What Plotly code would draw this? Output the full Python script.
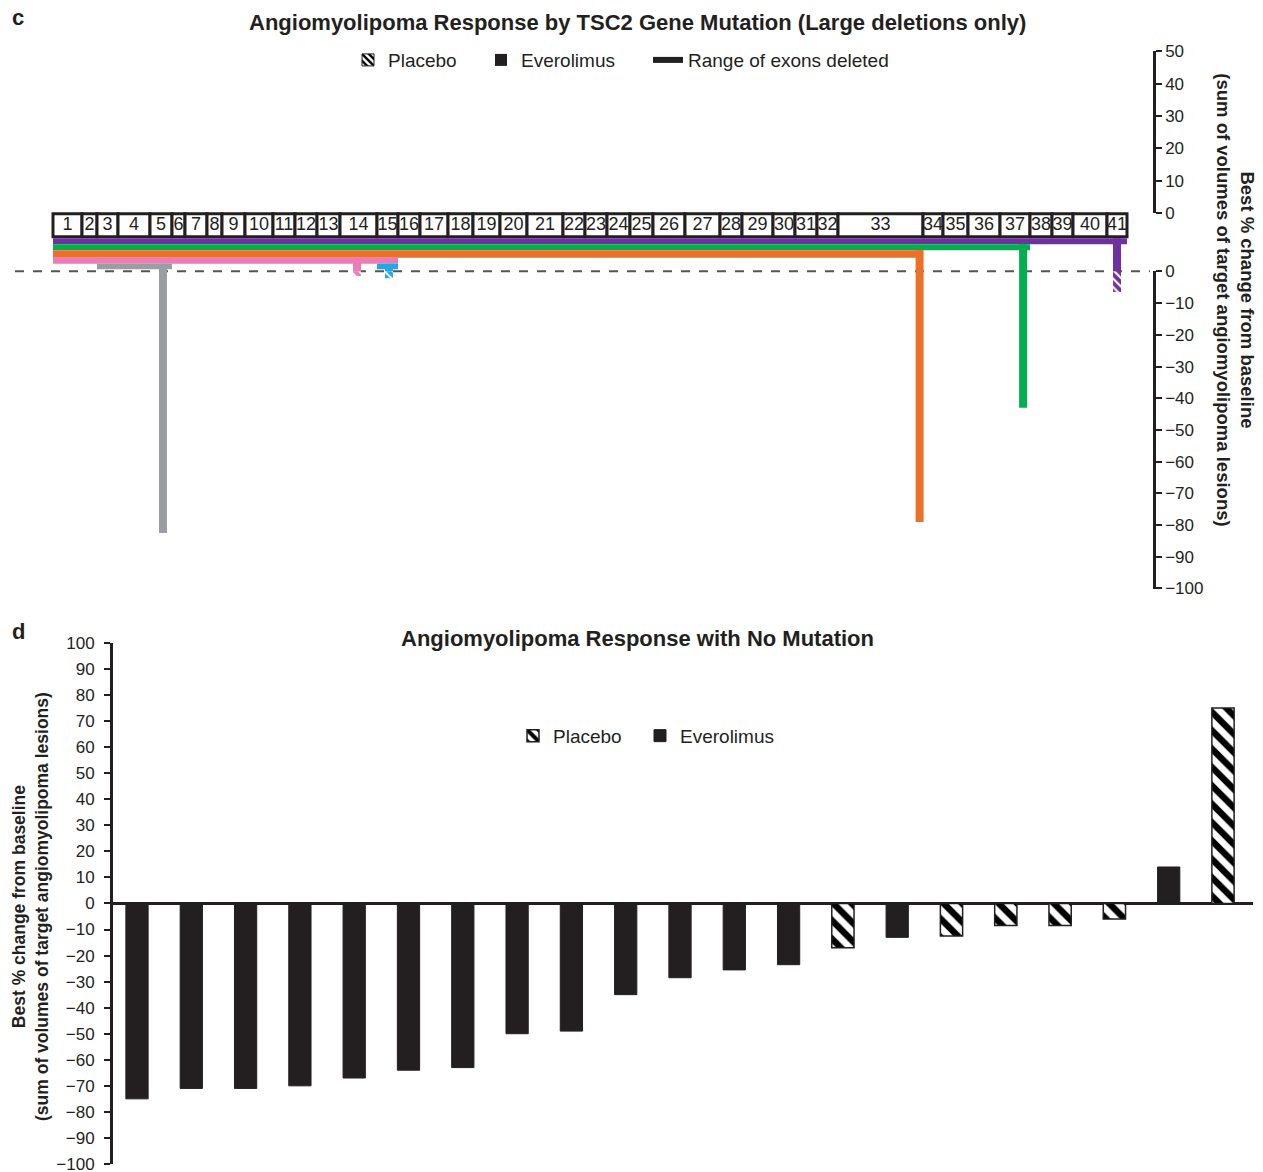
import plotly.graph_objects as go

W, H = 1263, 1192
FONT = "Arial, Liberation Sans, sans-serif"
BLACK = "#231F20"

# ---------------- Panel c data ----------------
exon_labels = [str(i) for i in range(1, 42)]
exon_widths = [29, 15, 21, 32, 22, 13, 22, 15, 23, 28, 22, 22, 23, 37, 21, 22, 28, 25, 27, 27,
               36, 22, 22, 23, 23, 32, 35, 22, 31, 22, 22, 21, 85, 20, 25, 32, 30, 22, 21, 34, 20]
c_del_start_exon = [1, 1, 1, 1, 15, 3]
c_del_end_exon = [41, 37, 33, 15, 15, 5]
c_treatment = ["Placebo", "Everolimus", "Everolimus", "Placebo", "Placebo", "Everolimus"]
c_response = [-6.5, -43, -79, -1.5, -2.2, -82.5]
c_bar_exon_pos = [41.5, 37.77, 33.96, 14.46, 15.57, 5.59]   # exon number + fraction within exon
c_ticks_upper = [0, 10, 20, 30, 40, 50]
c_ticks_lower = [0, -10, -20, -30, -40, -50, -60, -70, -80, -90, -100]

# ---------------- Panel d data ----------------
d_patient = list(range(1, 22))
d_treatment = ["Everolimus"] * 13 + ["Placebo", "Everolimus", "Placebo", "Placebo", "Placebo",
                                     "Placebo", "Everolimus", "Placebo"]
d_response = [-75, -71, -71, -70, -67, -64, -63, -50, -49, -35, -28.5, -25.5, -23.5,
              -17, -13, -12.5, -8.5, -8.5, -6, 14, 75]
d_ticks = list(range(-100, 101, 10))

# ---------------- styles ----------------
c_colors = ["#7030A0", "#00B050", "#EC7128", "#EE7AB6", "#22A7E6", "#9A9EA2"]
c_rows = [0, 1, 2, 3, 4, 4]
row_px = [(237, 243), (243, 249), (249, 256.5), (256.5, 262.5), (262.5, 268)]  # top, bottom px

# vertical placement helper (target picture rows -> page rows)
Y_OFF, Y_SCALE = 8.0, 0.983


def pg(p):
    return (p - Y_OFF) / Y_SCALE


def pxx(p):
    return p / W


def pyy(p):
    return 1 - pg(p) / H


C_TOP, C_ZERO, C_BOT = 30, 270, 587


def cu(p):
    # target picture row -> panel-c data units
    return (pg(C_ZERO) - pg(p)) / ((pg(C_BOT) - pg(C_ZERO)) / 100.0)


# exon geometry
edges = [0]
for w in exon_widths:
    edges.append(edges[-1] + w)
centers = [(edges[i] + edges[i + 1]) / 2 for i in range(len(exon_widths))]


def exon_pos(p):
    e = int(p)
    return edges[e - 1] + (p - e) * exon_widths[e - 1]


X0_PX, X1_PX, AX_PX = 53, 1127, 1153
kx = (X1_PX - X0_PX) / edges[-1]
c_xrange = [-X0_PX / kx, (AX_PX - X0_PX) / kx]

fig = go.Figure()

# exon boxes
fig.add_trace(go.Bar(
    x=centers, y=[cu(212.5) - cu(235.5)] * len(centers), base=[cu(235.5)] * len(centers),
    width=exon_widths, marker=dict(color="white", line=dict(color=BLACK, width=3)),
    showlegend=False, hoverinfo="skip", xaxis="x", yaxis="y"))
fig.add_trace(go.Scatter(
    x=centers, y=[cu(224)] * len(centers), mode="text", text=exon_labels,
    textfont=dict(size=18, color=BLACK, family=FONT), showlegend=False, hoverinfo="skip",
    xaxis="x", yaxis="y"))

# deletion range bands
bx, bw, bb, bh = [], [], [], []
for s, e, r in zip(c_del_start_exon, c_del_end_exon, c_rows):
    x0, x1 = edges[s - 1], edges[e]
    bx.append((x0 + x1) / 2)
    bw.append(x1 - x0)
    top, bot = row_px[r]
    bb.append(cu(bot))
    bh.append(cu(top) - cu(bot))
fig.add_trace(go.Bar(x=bx, y=bh, base=bb, width=bw, marker=dict(color=c_colors, line=dict(width=0)),
                     showlegend=False, hoverinfo="skip", xaxis="x", yaxis="y"))

# response bars
BAR_W = 8 / kx
for i in range(len(c_response)):
    xpos = exon_pos(c_bar_exon_pos[i])
    top = cu(row_px[c_rows[i]][0])
    col = c_colors[i]
    val = c_response[i]
    if c_treatment[i] == "Everolimus":
        fig.add_trace(go.Bar(x=[xpos], y=[top - val], base=[val], width=[BAR_W],
                             marker=dict(color=col, line=dict(width=0)),
                             showlegend=False, hoverinfo="skip", xaxis="x", yaxis="y"))
    else:
        fig.add_trace(go.Bar(x=[xpos], y=[top], base=[0], width=[BAR_W],
                             marker=dict(color=col, line=dict(width=0)),
                             showlegend=False, hoverinfo="skip", xaxis="x", yaxis="y"))
        fig.add_trace(go.Bar(x=[xpos], y=[-val], base=[val], width=[BAR_W],
                             marker=dict(color=col, line=dict(width=0),
                                         pattern=dict(shape="\\", fgcolor="white", bgcolor=col,
                                                      size=6, solidity=0.35, fgopacity=1,
                                                      fillmode="replace")),
                             showlegend=False, hoverinfo="skip", xaxis="x", yaxis="y"))

# axis helpers for the two right-hand scales
fig.add_trace(go.Scatter(x=[None], y=[None], xaxis="x", yaxis="y2", showlegend=False, hoverinfo="skip"))
fig.add_trace(go.Scatter(x=[None], y=[None], xaxis="x", yaxis="y3", showlegend=False, hoverinfo="skip"))

# legend entries for panel c
hatch = dict(shape="\\", fgcolor="#000000", bgcolor="white", size=6, solidity=0.5,
             fgopacity=1, fillmode="replace")
fig.add_trace(go.Bar(x=[None], y=[None], name="Placebo", legend="legend", xaxis="x", yaxis="y",
                     marker=dict(color="white", line=dict(color=BLACK, width=1), pattern=hatch)))
fig.add_trace(go.Bar(x=[None], y=[None], name="Everolimus", legend="legend2", xaxis="x", yaxis="y",
                     marker=dict(color=BLACK, line=dict(width=0))))
fig.add_trace(go.Scatter(x=[None], y=[None], name="Range of exons deleted", legend="legend3",
                         mode="lines", line=dict(color=BLACK, width=6), xaxis="x", yaxis="y"))

# ---------------- Panel d bars ----------------
px_ = [p for p, t in zip(d_patient, d_treatment) if t == "Placebo"]
py_ = [v for v, t in zip(d_response, d_treatment) if t == "Placebo"]
ex_ = [p for p, t in zip(d_patient, d_treatment) if t == "Everolimus"]
ey_ = [v for v, t in zip(d_response, d_treatment) if t == "Everolimus"]
fig.add_trace(go.Bar(x=px_, y=py_, width=0.41, name="Placebo", legend="legend4",
                     marker=dict(color="white", line=dict(color=BLACK, width=1.5),
                                 pattern=dict(shape="\\", fgcolor="#000000", bgcolor="white",
                                              size=13, solidity=0.5, fgopacity=1,
                                              fillmode="replace")),
                     xaxis="x2", yaxis="y4", hoverinfo="skip"))
fig.add_trace(go.Bar(x=ex_, y=ey_, width=0.41, name="Everolimus", legend="legend5",
                     marker=dict(color=BLACK, line=dict(color=BLACK, width=1)),
                     xaxis="x2", yaxis="y4", hoverinfo="skip"))

# ---------------- layout ----------------
D_LEFT, D_RIGHT = 113, 1253
D_TOP, D_BOT = 641, 1162
d_first_px, d_step_px = 137, 54.3
d_x0 = 1 - (d_first_px - D_LEFT) / d_step_px
d_x1 = d_x0 + (D_RIGHT - D_LEFT) / d_step_px

tickfont = dict(size=17, color=BLACK, family=FONT)
right_axis = dict(side="right", anchor="x", showline=True, linewidth=2.5, linecolor=BLACK,
                  ticks="outside", ticklen=6, tickwidth=2, tickcolor=BLACK, showgrid=False,
                  zeroline=False, tickfont=tickfont)

legend_common = dict(orientation="h", xanchor="left", yanchor="middle", bgcolor="rgba(0,0,0,0)",
                     borderwidth=0, font=dict(size=19, color=BLACK, family=FONT))

fig.update_layout(
    width=W, height=H, margin=dict(l=0, r=0, t=0, b=0),
    paper_bgcolor="white", plot_bgcolor="rgba(0,0,0,0)",
    barmode="overlay", font=dict(family=FONT, color=BLACK),
    xaxis=dict(domain=[0, pxx(AX_PX)], range=c_xrange, visible=False, anchor="y"),
    yaxis=dict(domain=[pyy(C_BOT), pyy(C_TOP)], range=[-100, cu(C_TOP)], visible=False, anchor="x"),
    yaxis2=dict(domain=[pyy(212), pyy(50)], range=[-0.05, 50.05], tickvals=c_ticks_upper, **right_axis),
    yaxis3=dict(domain=[pyy(C_BOT), pyy(C_ZERO)], range=[-100.05, 0.05], tickvals=c_ticks_lower, **right_axis),
    xaxis2=dict(domain=[pxx(D_LEFT), pxx(D_RIGHT)], range=[d_x0, d_x1], visible=False, anchor="y4"),
    yaxis4=dict(domain=[pyy(D_BOT), pyy(D_TOP)], range=[-100.1, 100.1], tickvals=d_ticks, anchor="x2",
                showline=True, linewidth=3, linecolor=BLACK, ticks="outside", ticklen=6, tickwidth=2,
                tickcolor=BLACK, showgrid=False, zeroline=True, zerolinewidth=3, zerolinecolor=BLACK,
                tickfont=tickfont, ticklabelstandoff=6),
    legend=dict(x=pxx(348), y=pyy(59), **legend_common),
    legend2=dict(x=pxx(481), y=pyy(59), **legend_common),
    legend3=dict(x=pxx(648), y=pyy(59), **legend_common),
    legend4=dict(x=pxx(513), y=pyy(734), **legend_common),
    legend5=dict(x=pxx(640), y=pyy(734), **legend_common),
    shapes=[dict(type="line", xref="paper", yref="y", x0=pxx(15), x1=pxx(1150), y0=0, y1=0,
                 line=dict(color="#555555", width=2, dash="dash"), layer="below")],
    annotations=[
        dict(text="<b>c</b>", x=pxx(18), y=pyy(16), xref="paper", yref="paper", showarrow=False,
             font=dict(size=22, color=BLACK), xanchor="center", yanchor="middle"),
        dict(text="<b>d</b>", x=pxx(18), y=pyy(630), xref="paper", yref="paper", showarrow=False,
             font=dict(size=22, color=BLACK), xanchor="center", yanchor="middle"),
        dict(text="<b>Angiomyolipoma Response by TSC2 Gene Mutation (Large deletions only)</b>",
             x=pxx(637), y=pyy(21), xref="paper", yref="paper", showarrow=False,
             font=dict(size=22, color=BLACK), xanchor="center", yanchor="middle"),
        dict(text="<b>Angiomyolipoma Response with No Mutation</b>",
             x=pxx(637), y=pyy(637), xref="paper", yref="paper", showarrow=False,
             font=dict(size=22, color=BLACK), xanchor="center", yanchor="middle"),
        dict(text="<b>Best % change from baseline<br>(sum of volumes of target angiomyolipoma lesions)</b>",
             x=pxx(1236), y=pyy(298), xref="paper", yref="paper", showarrow=False, textangle=90,
             font=dict(size=18.5, color=BLACK), xanchor="center", yanchor="middle"),
        dict(text="<b>Best % change from baseline<br>(sum of volumes of target angiomyolipoma lesions)</b>",
             x=pxx(31), y=pyy(905), xref="paper", yref="paper", showarrow=False, textangle=-90,
             font=dict(size=17.5, color=BLACK), xanchor="center", yanchor="middle"),
    ],
)

post = ("document.documentElement.style.margin='0';document.documentElement.style.padding='0';"
        "document.documentElement.style.overflow='hidden';"
        "document.body.style.margin='0';document.body.style.padding='0';document.body.style.overflow='hidden';"
        "var gd=document.getElementById('{plot_id}');gd.style.position='fixed';gd.style.top='0px';"
        "gd.style.left='0px';")
fig.write_html("out.html", config={"displayModeBar": False}, post_script=post)
